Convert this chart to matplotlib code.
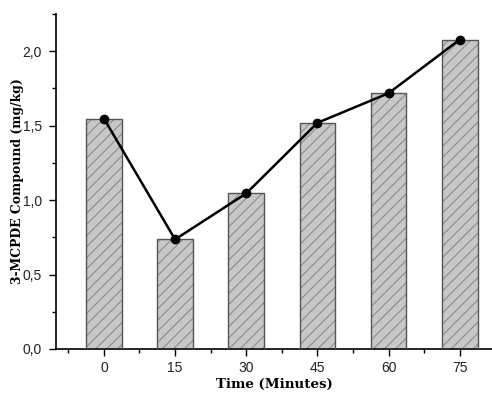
import matplotlib
matplotlib.use("Agg")
import matplotlib.pyplot as plt
from matplotlib.ticker import MultipleLocator

times = [0, 15, 30, 45, 60, 75]
values = [1.548, 0.736, 1.045, 1.519, 1.718, 2.078]
xticklabels = ["0", "15", "30", "45", "60", "75"]

fig = plt.figure(figsize=(4.92, 3.97), dpi=100)
ax = fig.add_axes([56/492, 48/397, 436/492, 335/397])

plt.rcParams["hatch.linewidth"] = 0.8
# hatched fill
ax.bar(times, values, width=7.5, color="#c8c8c8", edgecolor="#8c8c8c",
       hatch="///", linewidth=0, zorder=2)
# outline
ax.bar(times, values, width=7.5, color="none", edgecolor="#555555",
       linewidth=1.0, zorder=3)
ax.plot(times, values, color="black", lw=1.8, marker="o", markersize=6, zorder=4)

ax.set_xlim(-10.1, 81.8)
ax.set_ylim(0, 2.25)
ax.set_xticks(times)
ax.set_xticklabels(xticklabels)
ax.xaxis.set_minor_locator(MultipleLocator(7.5))
ax.yaxis.set_major_locator(MultipleLocator(0.5))
ax.yaxis.set_minor_locator(MultipleLocator(0.25))

def fmt(v, pos):
    return f"{v:.1f}".replace(".", ",")
ax.yaxis.set_major_formatter(plt.FuncFormatter(fmt))

for s in ["top", "right"]:
    ax.spines[s].set_visible(False)
for s in ["left", "bottom"]:
    ax.spines[s].set_linewidth(1.2)

ax.tick_params(which="major", direction="out", length=5, width=1.0,
               labelsize=10)
ax.tick_params(axis="x", which="major", pad=4)
ax.tick_params(axis="y", which="major", pad=5)
ax.tick_params(which="minor", direction="out", length=3, width=1.0)
for lab in ax.get_xticklabels() + ax.get_yticklabels():
    lab.set_fontfamily("Liberation Sans")
    lab.set_color("#222222")

ax.set_xlabel("Time (Minutes)", fontfamily="DejaVu Serif", fontweight="bold",
              fontsize=9.6, va="center")
ax.xaxis.set_label_coords(0.5, -0.107)
ax.set_ylabel("3-MCPDE Compound (mg/kg)", fontfamily="DejaVu Serif",
              fontweight="bold", fontsize=8.9, va="center")
ax.yaxis.set_label_coords(-0.089, 0.5)

fig.savefig("out.png", dpi=100)
